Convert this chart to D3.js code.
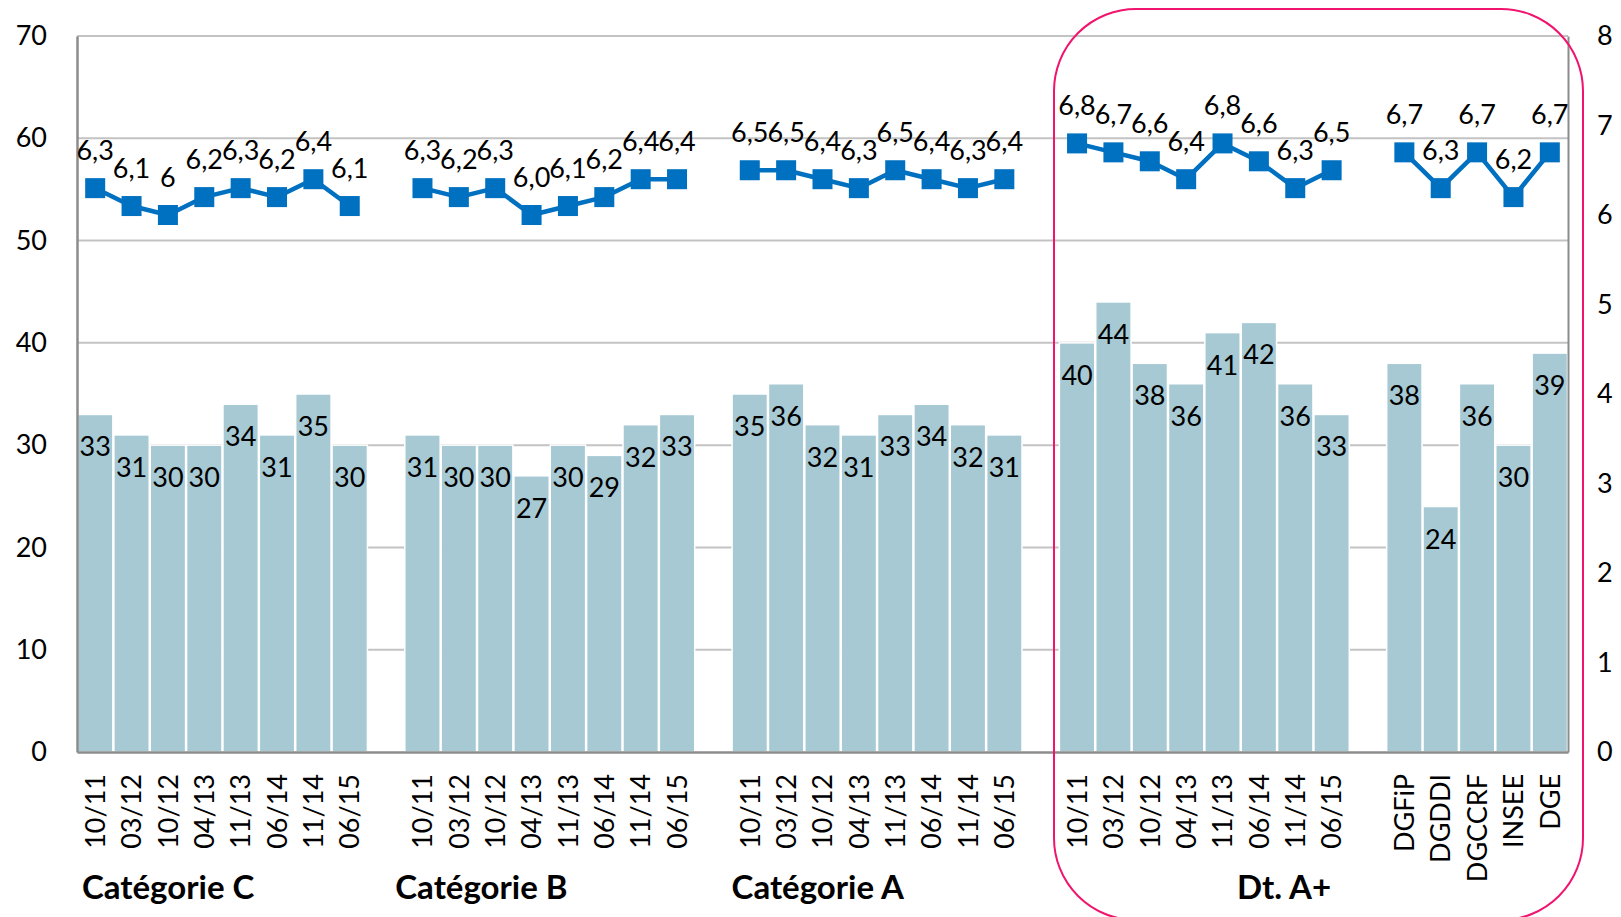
<!DOCTYPE html>
<html>
<head>
<meta charset="utf-8">
<script src="https://cdn.jsdelivr.net/npm/d3@7"></script>
<style>
  html, body { margin: 0; padding: 0; background: #fff; }
  svg { display: block; }
  text { font-family: Lato, "Open Sans", sans-serif; fill: #000; }
</style>
</head>
<body>
<svg id="chart" width="1621" height="917"></svg>
<script>
// ---------------- DATA ----------------
const groupNames = ["Catégorie C", "Catégorie B", "Catégorie A", "Dt. A+"];
const periodLabels = ["10/11", "03/12", "10/12", "04/13", "11/13", "06/14", "11/14", "06/15"];
const directionLabels = ["DGFiP", "DGDDI", "DGCCRF", "INSEE", "DGE"];

const barsC    = [33, 31, 30, 30, 34, 31, 35, 30];
const barsB    = [31, 30, 30, 27, 30, 29, 32, 33];
const barsA    = [35, 36, 32, 31, 33, 34, 32, 31];
const barsAplus = [40, 44, 38, 36, 41, 42, 36, 33];
const barsDir  = [38, 24, 36, 30, 39];

const lineC    = [6.3, 6.1, 6.0, 6.2, 6.3, 6.2, 6.4, 6.1];
const lineB    = [6.3, 6.2, 6.3, 6.0, 6.1, 6.2, 6.4, 6.4];
const lineA    = [6.5, 6.5, 6.4, 6.3, 6.5, 6.4, 6.3, 6.4];
const lineAplus = [6.8, 6.7, 6.6, 6.4, 6.8, 6.6, 6.3, 6.5];
const lineDir  = [6.7, 6.3, 6.7, 6.2, 6.7];

const lineLabelC = ["6,3", "6,1", "6", "6,2", "6,3", "6,2", "6,4", "6,1"];

const leftTicks = [0, 10, 20, 30, 40, 50, 60, 70];
const rightTicks = [0, 1, 2, 3, 4, 5, 6, 7, 8];

// ---------------- BUILD SLOTS ----------------
const fmt = v => d3.format(".1f")(v).replace(".", ",");
const groups = [
  { cats: periodLabels, bars: barsC, line: lineC, labels: lineLabelC },
  { cats: periodLabels, bars: barsB, line: lineB },
  { cats: periodLabels, bars: barsA, line: lineA },
  { cats: periodLabels, bars: barsAplus, line: lineAplus },
  { cats: directionLabels, bars: barsDir, line: lineDir }
];
const slots = [];
groups.forEach((g, gi) => {
  if (gi > 0) slots.push({ key: "gap" + gi, gap: true });
  g.cats.forEach((c, i) => {
    slots.push({
      key: gi + "_" + i, label: c, group: gi,
      bar: g.bars[i], line: g.line[i],
      lineLabel: g.labels ? g.labels[i] : fmt(g.line[i])
    });
  });
});
const dataSlots = slots.filter(s => !s.gap);

// ---------------- LAYOUT ----------------
const svg = d3.select("#chart");
const pLeft = 77, pRight = 1568, pTop = 36, pBottom = 752;
const x = d3.scaleBand().domain(slots.map(s => s.key)).range([pLeft, pRight]).padding(0);
const yL = d3.scaleLinear().domain([0, 70]).range([pBottom, pTop]);
const yR = d3.scaleLinear().domain([0, 8]).range([pBottom, pTop]);
const fs = 27;

// gridlines
svg.append("g").selectAll("line").data(leftTicks.filter(t => t > 0)).join("line")
  .attr("x1", pLeft).attr("x2", pRight)
  .attr("y1", d => yL(d)).attr("y2", d => yL(d))
  .attr("stroke", "#C3C3C3").attr("stroke-width", 2);

// bars
svg.append("g").selectAll("rect").data(dataSlots).join("rect")
  .attr("x", d => x(d.key) + 0.5)
  .attr("width", x.bandwidth() - 1)
  .attr("y", d => yL(d.bar))
  .attr("height", d => yL(0) - yL(d.bar))
  .attr("fill", "#A6C9D4")
  .attr("stroke", "#fff").attr("stroke-width", 1.5);

// bar labels
svg.append("g").selectAll("text").data(dataSlots).join("text")
  .attr("x", d => x(d.key) + x.bandwidth() / 2)
  .attr("y", d => yL(d.bar) + 42)
  .attr("text-anchor", "middle")
  .attr("font-size", fs)
  .text(d => d.bar);

// left axis
const axL = svg.append("g").attr("transform", `translate(${pLeft},0)`)
  .call(d3.axisLeft(yL).tickValues(leftTicks).tickSize(0).tickPadding(30));
axL.select(".domain").attr("stroke", "#8C8C8C").attr("stroke-width", 2.5);
axL.selectAll("text").attr("font-size", fs).attr("font-family", "Lato, sans-serif").attr("fill", "#000");

// right axis
const axR = svg.append("g").attr("transform", `translate(${pRight},0)`)
  .call(d3.axisRight(yR).tickValues(rightTicks).tickSize(0).tickPadding(29));
axR.select(".domain").attr("stroke", "#8C8C8C").attr("stroke-width", 2);
axR.selectAll("text").attr("font-size", fs).attr("font-family", "Lato, sans-serif").attr("fill", "#000");

// bottom axis
const labelOf = new Map(slots.map(s => [s.key, s.gap ? "" : s.label]));
const axB = svg.append("g").attr("transform", `translate(0,${pBottom})`)
  .call(d3.axisBottom(x).tickSize(0).tickFormat(k => labelOf.get(k)));
axB.select(".domain").attr("stroke", "#8C8C8C").attr("stroke-width", 2.5);
axB.selectAll("text")
  .attr("font-size", fs).attr("font-family", "Lato, sans-serif").attr("fill", "#000")
  .attr("transform", "rotate(-90)")
  .attr("text-anchor", "end")
  .attr("x", -22).attr("y", 0).attr("dy", "0.36em");

// line (one segment per group)
const lineGen = d3.line()
  .x(d => x(d.key) + x.bandwidth() / 2)
  .y(d => yR(d.line));
const lg = svg.append("g");
groups.forEach((g, gi) => {
  const pts = dataSlots.filter(s => s.group === gi);
  lg.append("path").datum(pts)
    .attr("d", lineGen)
    .attr("fill", "none").attr("stroke", "#0070C0").attr("stroke-width", 4.5)
    .attr("stroke-linejoin", "round");
});
const ms = 20;
lg.selectAll("rect").data(dataSlots).join("rect")
  .attr("x", d => x(d.key) + x.bandwidth() / 2 - ms / 2)
  .attr("y", d => yR(d.line) - ms / 2)
  .attr("width", ms).attr("height", ms)
  .attr("fill", "#0070C0");

// line labels
svg.append("g").selectAll("text").data(dataSlots).join("text")
  .attr("x", d => x(d.key) + x.bandwidth() / 2)
  .attr("y", d => yR(d.line) - 28)
  .attr("text-anchor", "middle")
  .attr("font-size", fs)
  .text(d => d.lineLabel);

// group labels
const firstKey = gi => dataSlots.find(s => s.group === gi).key;
const groupOffsets = [5, -9, 0, 178];
svg.append("g").selectAll("text").data(groupNames).join("text")
  .attr("x", (d, i) => x(firstKey(i)) + groupOffsets[i])
  .attr("y", 899)
  .attr("font-size", 33).attr("font-weight", "bold")
  .text(d => d);

// highlight box
svg.append("rect")
  .attr("x", 1054).attr("y", 9).attr("width", 529).attr("height", 911)
  .attr("rx", 82).attr("ry", 82)
  .attr("fill", "none").attr("stroke", "#F0146E").attr("stroke-width", 2);
</script>
</body>
</html>
